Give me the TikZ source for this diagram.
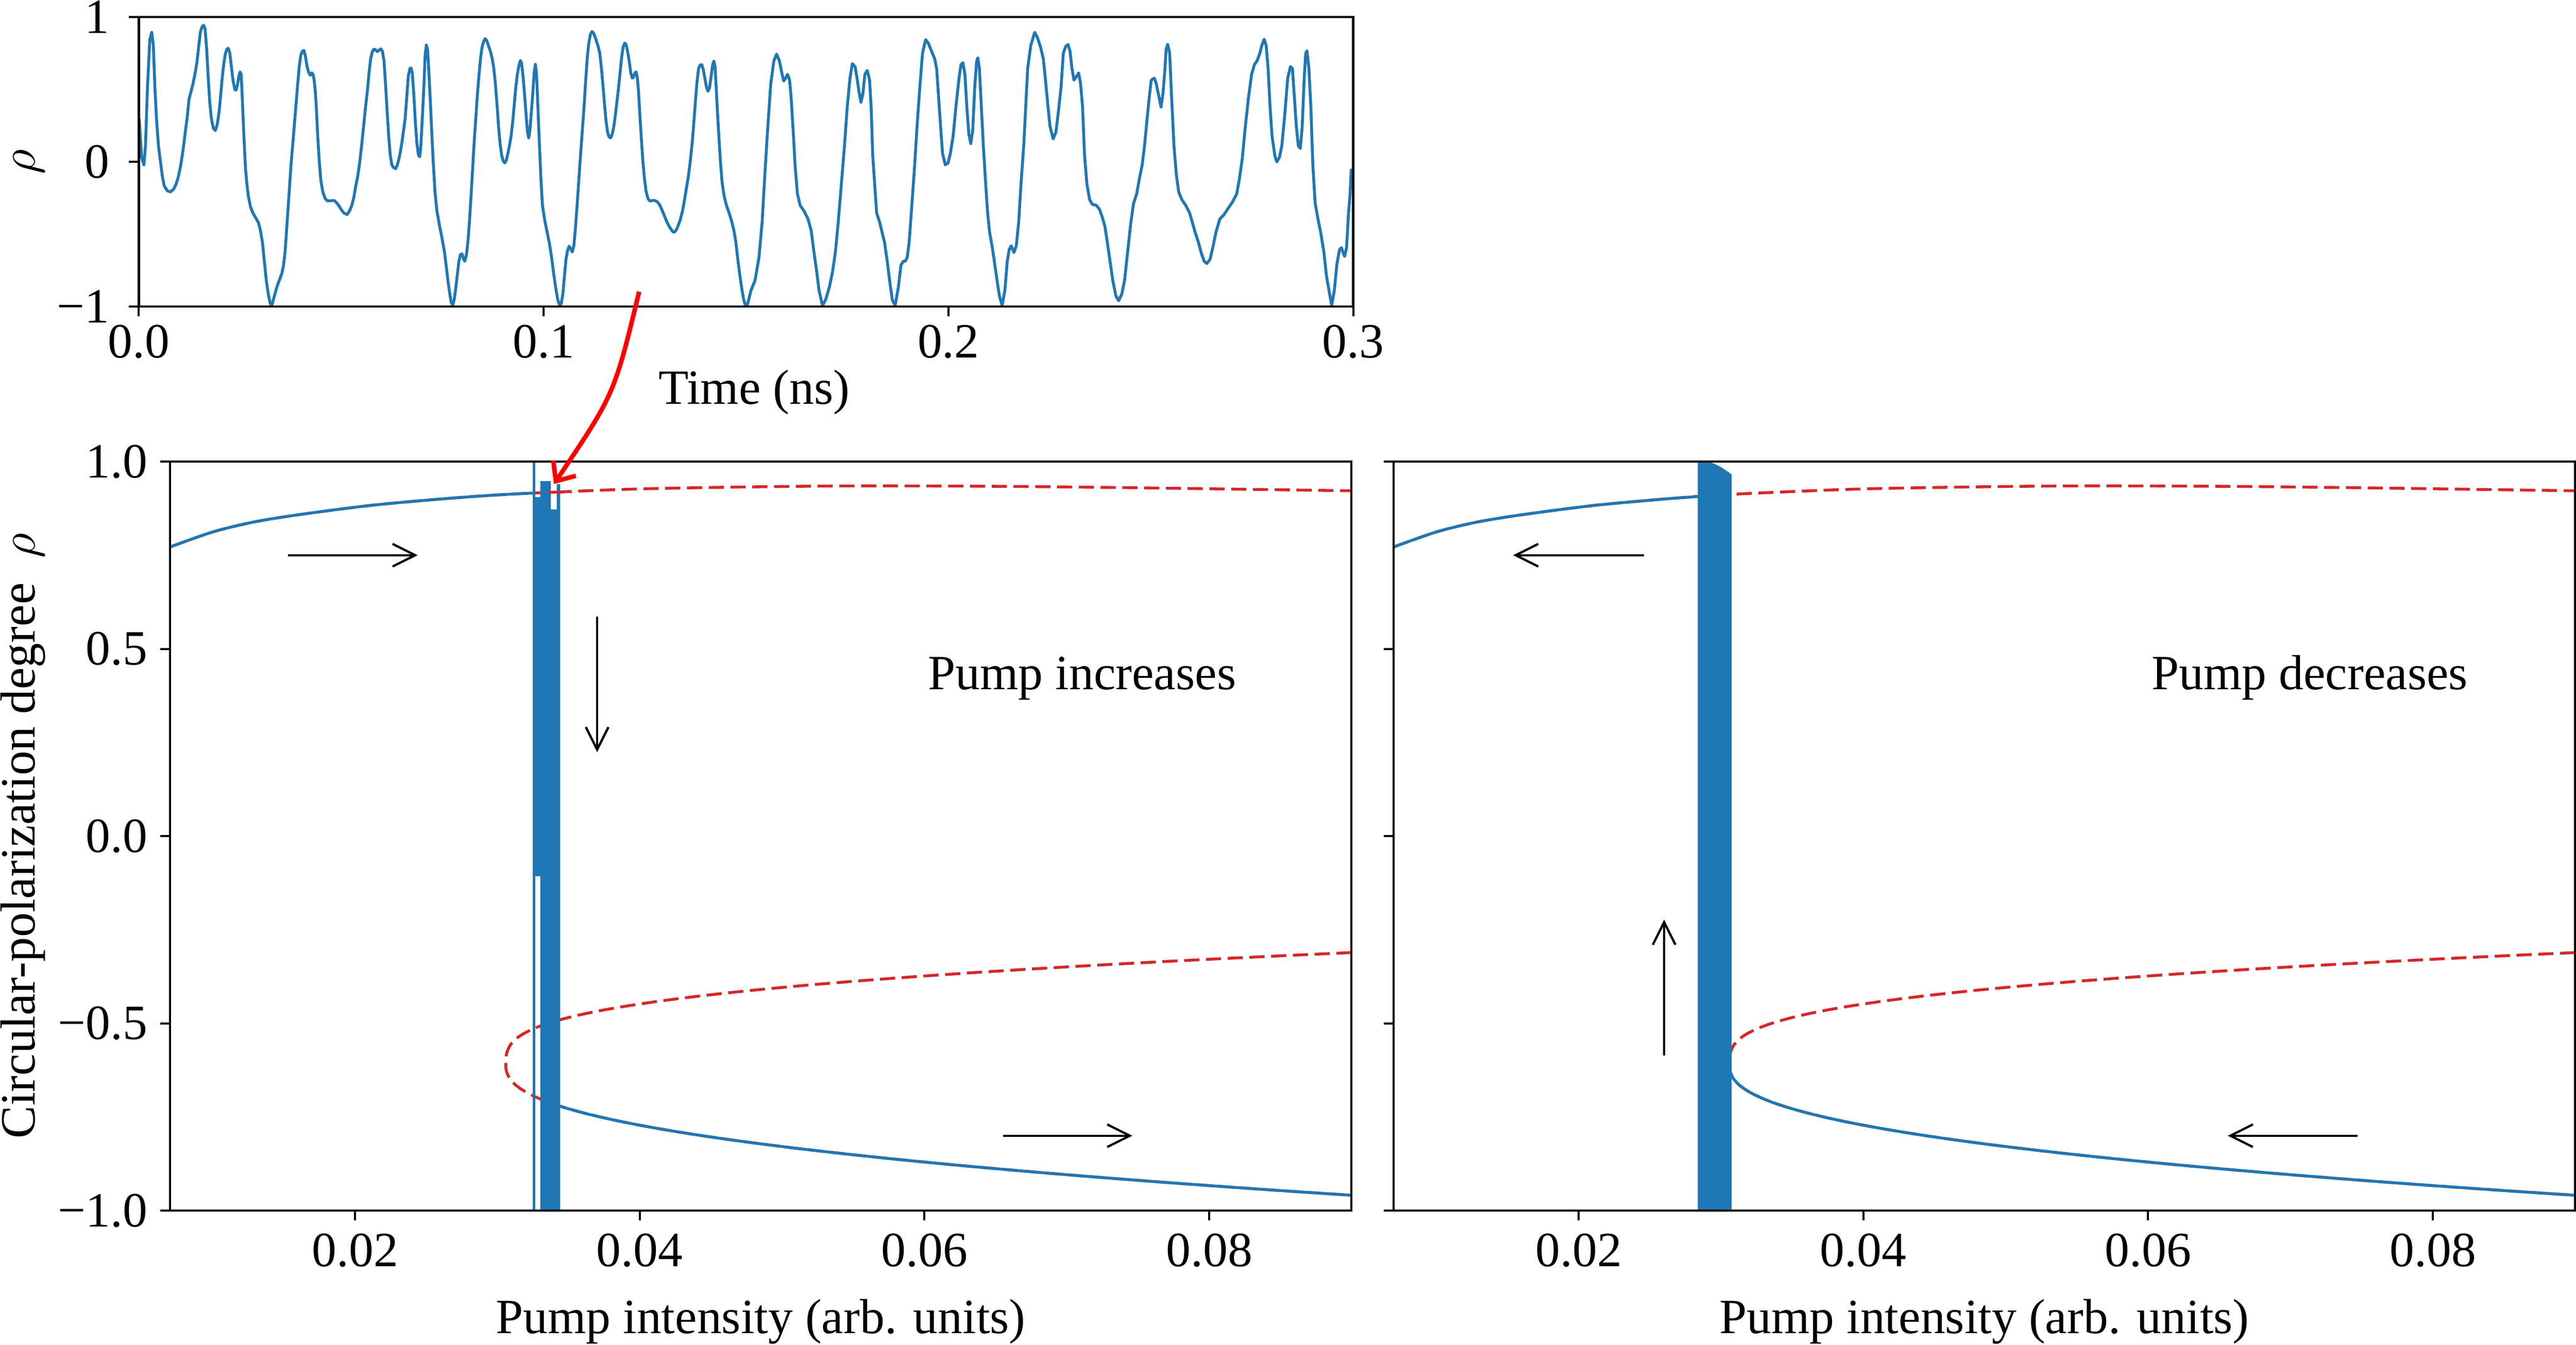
\documentclass[tikz,border=0pt]{standalone}
\usepackage{fontspec}
\setmainfont{Liberation Serif}
\usepackage{tikz}
\usetikzlibrary{arrows.meta}
\definecolor{mplblue}{HTML}{1F77B4}
\definecolor{mplred}{HTML}{D62728}

\begin{document}
\begin{tikzpicture}[
    font=\fontsize{12pt}{14pt}\selectfont,
    frame/.style={line width=0.55pt},
    tick/.style={line width=0.5pt},
    ticklab/.style={inner sep=0pt},
    stable/.style={mplblue, line width=0.7pt, line join=round},
    unstable/.style={mplred, line width=0.7pt, dash pattern=on 3.7pt off 1.6pt},
    sweep/.style={-{Straight Barb[length=5.5pt,width=5.5pt]}, line width=0.55pt},
    zoomarrow/.style={-{Straight Barb[length=3.8pt,width=6.6pt]}, red, line width=1.1pt},
  ]
  \useasboundingbox (0,0) rectangle (627.2pt,327.44pt);

  % time trace (top)
  \begin{scope}[shift={(33.8pt,288.04pt)}, x=0.9856pt, y=35.24pt]
    \begin{scope}[shift={(-0.4845,1.0439)}, x=0.09551pt, y=-0.046926pt]
      \draw[stable] plot coordinates {(6,560) (12,760) (18,800) (22,700) (27,400) (33,150) (38,112) (42,180) (46,400) (50,560) (55,700) (60,780) (65,860) (70,910) (78,935) (86,940) (94,925) (100,900) (106,860) (112,800) (118,720) (124,620) (128,560) (133,460) (138,420) (143,380) (148,330) (153,270) (158,180) (162,110) (166,85) (170,75) (174,95) (178,200) (182,350) (186,480) (190,560) (195,610) (200,622) (205,590) (210,520) (214,430) (218,340) (222,270) (226,220) (230,198) (233,195) (237,220) (241,290) (245,360) (250,410) (253,412) (257,380) (260,340) (263,318) (266,330) (268,420) (271,560) (274,700) (277,820) (280,890) (284,960) (290,1020) (296,1050) (303,1075) (310,1100) (315,1140) (320,1200) (325,1300) (330,1400) (335,1470) (340,1520) (344,1532) (348,1500) (352,1470) (356,1440) (361,1410) (366,1385) (370,1360) (374,1320) (378,1250) (383,1100) (388,950) (393,800) (398,680) (402,580) (406,480) (410,380) (414,290) (418,230) (422,210) (426,206) (430,240) (434,290) (438,320) (442,335) (446,322) (449,330) (452,360) (455,420) (458,520) (461,650) (465,780) (469,880) (474,940) (480,975) (486,987) (494,986) (503,985) (510,998) (516,1015) (522,1035) (528,1050) (536,1058) (542,1040) (548,1010) (553,970) (558,910) (563,860) (568,790) (573,700) (578,600) (583,500) (588,410) (592,320) (596,250) (600,215) (604,200) (608,202) (613,212) (618,204) (622,198) (626,210) (630,260) (634,380) (638,520) (642,650) (646,750) (650,800) (655,815) (660,820) (664,800) (668,770) (672,730) (676,680) (680,620) (684,560) (688,450) (692,340) (696,300) (699,297) (702,320) (706,430) (710,580) (714,690) (718,750) (721,758) (724,700) (728,550) (732,380) (735,230) (738,178) (741,200) (744,300) (748,460) (752,640) (756,800) (760,940) (765,1040) (772,1120) (778,1180) (784,1250) (789,1330) (793,1400) (797,1460) (801,1510) (805,1530) (809,1500) (813,1440) (817,1370) (821,1300) (825,1265) (829,1262) (833,1290) (836,1300) (840,1270) (844,1200) (848,1090) (852,960) (856,820) (860,680) (864,560) (868,440) (872,340) (876,250) (880,190) (884,160) (888,145) (892,155) (897,185) (902,215) (906,250) (910,300) (914,380) (918,480) (922,600) (926,690) (930,750) (934,780) (938,790) (942,775) (946,740) (950,700) (954,650) (958,580) (962,490) (966,400) (970,330) (974,285) (978,258) (981,275) (985,350) (989,450) (993,560) (996,630) (999,660) (1002,620) (1006,520) (1010,410) (1013,320) (1016,278) (1019,330) (1022,480) (1026,680) (1030,870) (1034,1010) (1040,1090) (1046,1150) (1052,1210) (1058,1290) (1063,1370) (1068,1440) (1073,1500) (1078,1530) (1082,1520) (1086,1470) (1090,1380) (1094,1290) (1098,1245) (1102,1222) (1106,1235) (1110,1252) (1114,1220) (1118,1130) (1122,1020) (1126,900) (1130,780) (1135,640) (1140,500) (1144,370) (1148,250) (1152,170) (1156,125) (1160,108) (1164,115) (1168,135) (1172,160) (1176,185) (1180,220) (1184,290) (1188,380) (1192,480) (1196,570) (1200,630) (1204,655) (1208,660) (1212,640) (1216,600) (1220,540) (1224,470) (1228,400) (1232,320) (1236,240) (1240,185) (1244,168) (1247,175) (1251,210) (1255,260) (1259,320) (1263,350) (1266,345) (1270,322) (1273,318) (1276,350) (1279,420) (1282,530) (1286,660) (1290,780) (1294,870) (1298,935) (1303,975) (1308,988) (1314,985) (1320,985) (1326,990) (1332,1005) (1338,1030) (1344,1060) (1350,1090) (1356,1115) (1362,1135) (1367,1148) (1371,1148) (1376,1135) (1381,1110) (1386,1080) (1391,1040) (1396,985) (1401,920) (1406,860) (1411,780) (1416,680) (1420,580) (1424,470) (1428,370) (1432,300) (1436,282) (1440,280) (1444,305) (1448,350) (1452,395) (1456,418) (1460,400) (1464,340) (1468,280) (1471,262) (1474,290) (1477,400) (1480,520) (1484,660) (1488,790) (1492,890) (1497,960) (1503,1010) (1510,1050) (1516,1090) (1522,1140) (1527,1200) (1532,1290) (1537,1370) (1542,1440) (1547,1500) (1552,1532)};
    \end{scope}
    \begin{scope}[shift={(150.29,1.0439)}, x=0.09551pt, y=-0.046926pt]
      \draw[stable] plot coordinates {(0,1530) (10,1450) (20,1400) (30,1280) (38,1100) (45,850) (52,620) (60,380) (68,260) (75,225) (82,260) (88,320) (93,365) (98,350) (103,330) (108,360) (112,450) (118,650) (122,800) (128,950) (135,1010) (145,1040) (155,1080) (163,1140) (170,1250) (177,1350) (183,1450) (192,1530) (200,1500) (210,1430) (218,1350) (225,1250) (232,1100) (240,900) (248,700) (255,500) (262,350) (268,275) (275,290) (280,350) (285,420) (290,475) (295,430) (300,330) (306,310) (312,360) (316,500) (320,750) (325,900) (330,1050) (338,1100) (345,1160) (350,1200) (357,1300) (363,1400) (370,1500) (377,1530) (385,1440) (392,1320) (398,1300) (403,1300) (408,1280) (413,1200) (420,1000) (427,800) (433,600) (440,400) (447,220) (455,150) (462,170) (470,210) (478,250) (483,300) (488,450) (493,600) (498,740) (505,800) (512,790) (518,740) (525,650) (532,500) (540,350) (545,280) (550,270) (555,330) (560,500) (565,640) (570,690) (575,620) (580,400) (585,260) (588,245) (592,300) (597,500) (602,700) (608,900) (613,1050) (618,1150) (625,1230) (630,1300) (637,1400) (643,1480) (650,1530) (657,1450) (663,1300) (668,1240) (673,1220) (680,1255) (686,1220) (692,1100) (698,900) (705,700) (710,500) (715,300) (723,180) (733,112) (740,140) (748,190) (755,250) (760,350) (766,480) (772,600) (780,665) (787,630) (793,530) (800,400) (806,220) (812,185) (818,175) (823,210) (828,300) (833,360) (840,340) (845,323) (850,380) (855,500) (860,750) (866,900) (873,980) (880,1005) (890,1010) (898,1030) (905,1070) (912,1120) (918,1200) (925,1300) (932,1400) (940,1480) (947,1505) (955,1470) (962,1400) (970,1250) (978,1100) (985,1000) (993,950) (1000,870) (1007,800) (1013,700) (1020,550) (1025,450) (1030,360) (1038,350) (1043,380) (1050,450) (1055,500) (1060,430) (1065,300) (1068,200) (1072,175) (1077,220) (1082,450) (1088,700) (1094,850) (1100,940) (1108,980) (1118,1010) (1128,1050) (1135,1100) (1142,1150) (1150,1200) (1158,1260) (1165,1300) (1172,1312) (1180,1290) (1188,1220) (1195,1150) (1205,1080) (1215,1060) (1228,1020) (1238,990) (1248,950) (1255,870) (1262,770) (1270,600) (1278,450) (1286,330) (1293,280) (1300,260) (1307,220) (1312,180) (1318,148) (1323,180) (1328,300) (1333,500) (1338,650) (1345,750) (1350,785) (1357,760) (1363,700) (1370,550) (1378,350) (1385,290) (1390,300) (1395,450) (1400,600) (1405,700) (1410,715) (1415,600) (1420,350) (1424,220) (1427,208) (1432,300) (1437,500) (1442,800) (1448,1000) (1455,1080) (1462,1150) (1470,1250) (1477,1380) (1484,1460) (1490,1530) (1497,1450) (1503,1320) (1510,1240) (1515,1230) (1520,1260) (1523,1275) (1528,1230) (1533,1050) (1537,950) (1540,820)};
    \end{scope}
    \draw[frame] (0,-1) rectangle (300,1);
    \foreach \t/\lab [count=\k] in {0/0.0,100/0.1,200/0.2,300/0.3} {
      \draw[tick] (\t,-1) -- (\t,-1.068);
      \node[ticklab, anchor=base] (tx\k) at (\t,-1.354) {\lab};
    }
    \foreach \r/\lab [count=\k] in {-1/−1,0/0,1/1} {
      \draw[tick] (0,\r) -- (-2.43,\r);
      \node[ticklab, anchor=east] (ty\k) at (-7.1,\r) {\lab};
    }
    \node[ticklab, rotate=90] (trho) at (-27.2,0) {$\rho$};
    \node[ticklab, anchor=base] (ttime) at (152,-1.674) {Time (ns)};
    \coordinate (tsnap) at (123.6,-0.897);
  \end{scope}

  % pump increases (bottom left)
  \begin{scope}[shift={(17.136pt,123.84pt)}, x=3466pt, y=91.2pt]
    \draw[unstable] plot[smooth] coordinates {(0.007,0.772) (0.010,0.812) (0.0128,0.838) (0.016,0.858) (0.0211,0.883) (0.026,0.900) (0.030,0.911) (0.035,0.920) (0.040,0.927) (0.047,0.932) (0.055,0.935) (0.065,0.934) (0.075,0.930) (0.090,0.922)};
    \draw[unstable] plot[domain=1:0, samples=40, variable=\t] ({0.0306+0.0594*\t^3},{-0.61+0.299*\t})
      -- plot[domain=0:1, samples=40, variable=\t] ({0.0306+0.0594*\t^3},{-0.61-0.349*\t*sqrt(sqrt(\t))});
    \draw[stable] plot[smooth] coordinates {(0.007,0.772) (0.010,0.812) (0.0128,0.838) (0.016,0.858) (0.0211,0.883) (0.026,0.900) (0.030,0.911) (0.0325,0.916)};
    \draw[stable] plot[domain=0.4:1, samples=40, variable=\t] ({0.0306+0.0594*\t^3},{-0.61-0.349*\t*sqrt(sqrt(\t))});
    \fill[mplblue] (0.0325,-0.107) -- (0.0325,0.905) -- (0.0330,0.905) -- (0.0330,0.948) -- (0.03375,0.948) -- (0.03375,0.872) -- (0.03417,0.872) -- (0.03417,0.94) -- (0.03441,0.94) -- (0.03441,-1) -- (0.0330,-1) -- (0.0330,-0.107) -- cycle;
    \draw[mplblue, line width=0.6pt] (0.03258,-1) -- (0.03258,1);
    \draw[unstable] (0.0336,0.918) -- (0.0352,0.919);
    \draw[sweep] (0.0153,0.75) -- (0.0244,0.75);
    \draw[sweep] (0.037,0.586) -- (0.037,0.224);
    \draw[sweep] (0.0655,-0.8) -- (0.0746,-0.8);
    \draw[frame] (0.007,-1) rectangle (0.09,1);
    \foreach \v [count=\k] in {0.02,0.04,0.06,0.08} {
      \draw[tick] (\v,-1) -- (\v,-1.026);
      \node[ticklab, anchor=base] (lx\k) at (\v,-1.149) {\v};
    }
    \foreach \r/\lab [count=\k] in {-1/−1.0,-0.5/−0.5,0/0.0,0.5/0.5,1/1.0} {
      \draw[tick] (0.007,\r) -- (0.00631,\r);
      \node[ticklab, anchor=east] (ly\k) at (0.005477,\r) {\lab};
    }
    \node[ticklab, rotate=90, anchor=base] (lylab) at (-0.002509,0) {Circular-polarization degree\hspace{0.5em}$\rho$};
    \node[ticklab, anchor=base] (lxlab) at (0.0485,-1.328) {Pump intensity (arb. units)};
    \node[ticklab, anchor=base west] (incr) at (0.0602,0.392) {Pump increases};
    \coordinate (bandtip) at (0.03396,0.94);
  \end{scope}

  % pump decreases (bottom right)
  \begin{scope}[shift={(315.056pt,123.84pt)}, x=3466pt, y=91.2pt]
    \draw[unstable] plot[smooth] coordinates {(0.007,0.772) (0.010,0.812) (0.0128,0.838) (0.016,0.858) (0.0211,0.883) (0.026,0.900) (0.030,0.911) (0.035,0.920) (0.040,0.927) (0.047,0.932) (0.055,0.935) (0.065,0.934) (0.075,0.930) (0.090,0.922)};
    \draw[unstable] plot[domain=1:0, samples=40, variable=\t] ({0.0306+0.0594*\t^3},{-0.61+0.299*\t})
      -- plot[domain=0:1, samples=40, variable=\t] ({0.0306+0.0594*\t^3},{-0.61-0.349*\t*sqrt(sqrt(\t))});
    \draw[stable] plot[smooth] coordinates {(0.007,0.772) (0.010,0.812) (0.0128,0.838) (0.016,0.858) (0.0211,0.883) (0.026,0.900) (0.0285,0.907)};
    \draw[stable] plot[domain=0:1, samples=50, variable=\t] ({0.0306+0.0594*\t^3},{-0.61-0.349*\t*sqrt(sqrt(\t))});
    \fill[mplblue] (0.02836,-1) -- (0.02836,1) -- (0.0290,1) .. controls (0.0297,0.995) and (0.0302,0.98) .. (0.03075,0.966) -- (0.03075,-1) -- cycle;
    \draw[sweep] (0.0246,0.75) -- (0.0154,0.75);
    \draw[sweep] (0.026,-0.586) -- (0.026,-0.223);
    \draw[sweep] (0.0747,-0.8) -- (0.0656,-0.8);
    \draw[frame] (0.007,-1) rectangle (0.09,1);
    \foreach \v [count=\k] in {0.02,0.04,0.06,0.08} {
      \draw[tick] (\v,-1) -- (\v,-1.026);
      \node[ticklab, anchor=base] (rx\k) at (\v,-1.149) {\v};
    }
    \foreach \r in {-1,-0.5,0,0.5,1}
      \draw[tick] (0.007,\r) -- (0.00631,\r);
    \node[ticklab, anchor=base] (rxlab) at (0.0485,-1.328) {Pump intensity (arb. units)};
    \node[ticklab, anchor=base west] (decr) at (0.0602,0.392) {Pump decreases};
  \end{scope}

  % zoom pointer
  \draw[zoomarrow] (tsnap) .. controls +(-6.04pt,-25pt) .. (bandtip);
\end{tikzpicture}
\end{document}
